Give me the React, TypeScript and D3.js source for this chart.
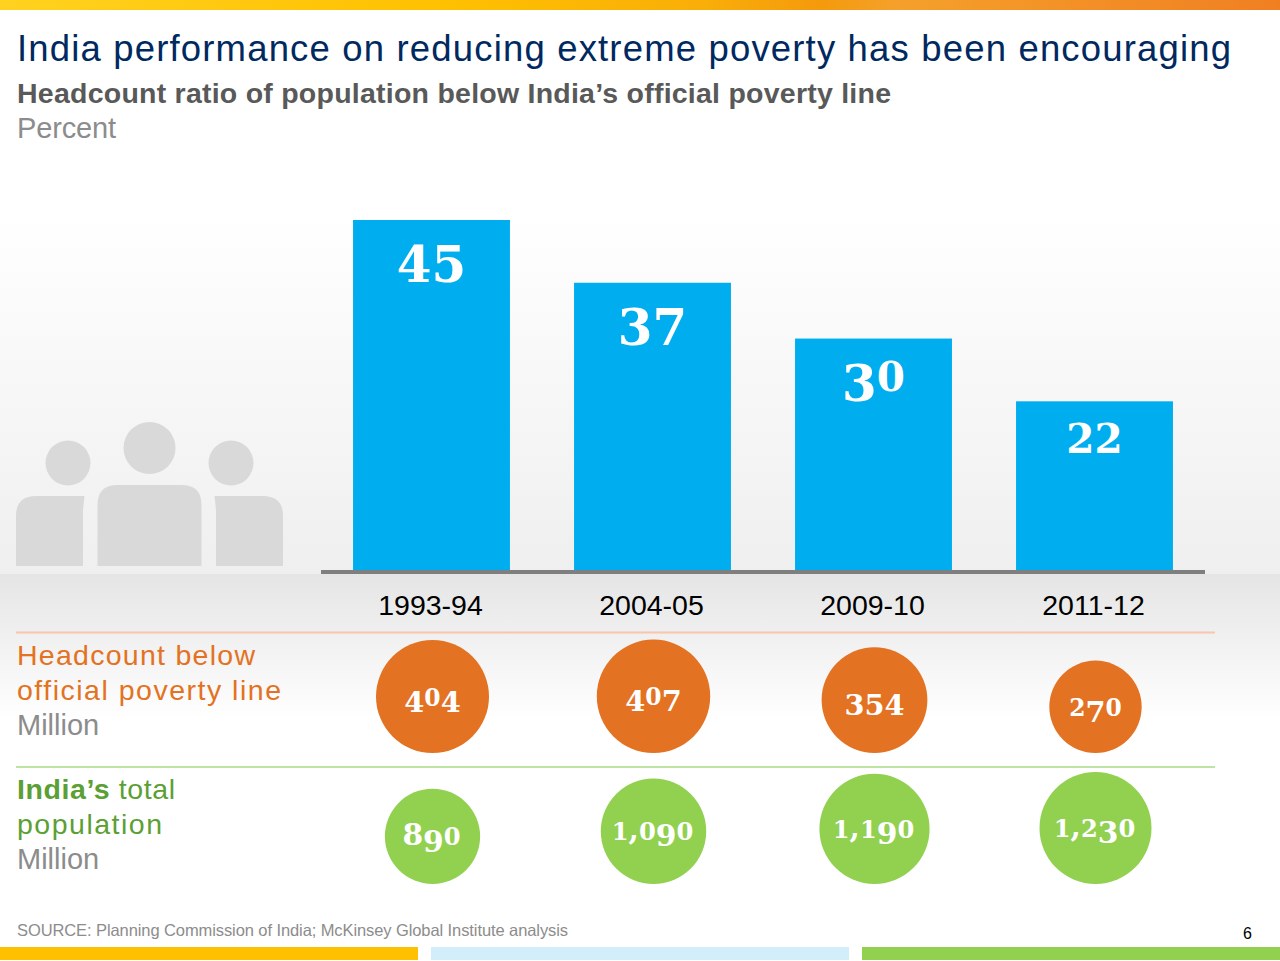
import React from "react";
import * as d3 from "d3";

const years = ["1993-94", "2004-05", "2009-10", "2011-12"];
const ratio = [45.3, 37.2, 30.0, 21.9];
const headcount = [404, 407, 354, 270];
const population = [890, 1090, 1190, 1230];
const popLabels = ["890", "1,090", "1,190", "1,230"];
const title = "India performance on reducing extreme poverty has been encouraging";
const subtitle = "Headcount ratio of population below India’s official poverty line";
const source = "SOURCE: Planning Commission of India; McKinsey Global Institute analysis";

const sans = "'Liberation Sans', Arial, sans-serif";
const serif = "'DejaVu Serif', serif";

const x = d3.scaleBand<string>().domain(years).range([321, 1205]).paddingInner(0.29).paddingOuter(0.145);
const y = d3.scaleLinear().domain([0, 45.3]).range([571, 220]);
const rOrange = d3.scaleSqrt().domain([0, 404]).range([0, 56.5]);
const rGreen = d3.scaleSqrt().domain([0, 1230]).range([0, 56]);

// Old-style figures: built from lining glyphs of the installed serif.
function Old({ s, size }: { s: string; size: number }) {
  let prev = 0;
  return (
    <>
      {s.split("").map((c, i) => {
        const small = "012".includes(c);
        const desc = "34579".includes(c);
        const fs = small ? size * 0.78 : size * 0.96;
        const off = desc ? size * 0.2 : 0;
        const dy = off - prev;
        prev = off;
        return (
          <tspan key={i} fontSize={fs} dy={dy}>
            {c}
          </tspan>
        );
      })}
    </>
  );
}

const T = (p: any) => <text fontFamily={sans} {...p} />;

export default function App() {
  const cx = (d: string) => x(d)! + x.bandwidth() / 2;
  return (
    <svg width={1280} height={961} style={{ position: "absolute", left: 0, top: 0, background: "#fff" }}>
      <defs>
        <linearGradient id="top" x1="0" x2="1" y1="0" y2="0">
          <stop offset="0" stopColor="#ffd21f" />
          <stop offset="0.35" stopColor="#ffc000" />
          <stop offset="0.55" stopColor="#f9ae08" />
          <stop offset="0.64" stopColor="#f59a0c" />
          <stop offset="0.7" stopColor="#f5a02a" />
          <stop offset="1" stopColor="#f07f22" />
        </linearGradient>
        <linearGradient id="upper" x1="0" x2="0" y1="0" y2="1">
          <stop offset="0" stopColor="#fff" />
          <stop offset="1" stopColor="#efefef" />
        </linearGradient>
        <linearGradient id="lower" x1="0" x2="0" y1="0" y2="1">
          <stop offset="0" stopColor="#e5e5e5" />
          <stop offset="1" stopColor="#fff" />
        </linearGradient>
      </defs>

      <rect x={0} y={0} width={1280} height={10} fill="url(#top)" />
      <rect x={0} y={205} width={1280} height={369} fill="url(#upper)" />
      <rect x={0} y={574} width={1280} height={146} fill="url(#lower)" />

      <T x={17} y={61} fontSize={36.5} fill="#002960" textLength={1214} lengthAdjust="spacing">{title}</T>
      <T x={17} y={103} fontSize={28.5} fontWeight="bold" fill="#595959" textLength={874} lengthAdjust="spacing">{subtitle}</T>
      <T x={17} y={138} fontSize={29} fill="#8c8c8c" textLength={99} lengthAdjust="spacing">Percent</T>

      <g fill="#d9d9d9">
        <circle cx={68} cy={463} r={22.5} />
        <circle cx={149.5} cy={448} r={26} />
        <circle cx={231} cy={463} r={22.5} />
        <path d="M16 566V516Q16 496 36 496H84.500L83 510V566Z" />
        <path d="M97.500 566V505Q97.500 485 117.500 485H181.500Q201.500 485 201.500 505V566Z" />
        <path d="M216 566V510L214.500 496H263Q283 496 283 516V566Z" />
      </g>

      {years.map((d, i) => (
        <rect key={d} x={x(d)} y={y(ratio[i])} width={x.bandwidth()} height={y(0) - y(ratio[i])} fill="#00aeef" />
      ))}
      <line x1={321} x2={1205} y1={572} y2={572} stroke="#7f7f7f" strokeWidth={4} />
      {years.map((d, i) => (
        <text key={d} x={cx(d)} y={y(ratio[i]) + 52} textAnchor="middle" fontFamily={serif} fontWeight="bold" fill="#fff">
          <Old s={String(Math.round(ratio[i]))} size={52} />
        </text>
      ))}
      {years.map((d) => (
        <T key={d} x={cx(d) - 1} y={615} fontSize={28.5} fill="#000" textAnchor="middle">{d}</T>
      ))}

      <line x1={16} x2={1215} y1={632.500} y2={632.500} stroke="#f8c6ac" strokeWidth={2} />
      <line x1={16} x2={1215} y1={767} y2={767} stroke="#bfe3a2" strokeWidth={2} />

      <T x={17} y={665} fontSize={28.5} fill="#e37222" textLength={238} lengthAdjust="spacing">Headcount below</T>
      <T x={17} y={700} fontSize={28.5} fill="#e37222" textLength={264} lengthAdjust="spacing">official poverty line</T>
      <T x={17} y={735} fontSize={29} fill="#8c8c8c">Million</T>
      <T x={17} y={799} fontSize={28.5} fill="#5b9f35" textLength={158} lengthAdjust="spacing">
        <tspan fontWeight="bold">India’s</tspan> total
      </T>
      <T x={17} y={834} fontSize={28.5} fill="#5b9f35" textLength={145} lengthAdjust="spacing">population</T>
      <T x={17} y={869} fontSize={29} fill="#8c8c8c">Million</T>

      {years.map((d, i) => {
        const r = rOrange(headcount[i]);
        const cy = 753 - r;
        return (
          <g key={d}>
            <circle cx={cx(d) + 1} cy={cy} r={r} fill="#e37222" />
            <text x={cx(d) + 1} y={cy + 9} textAnchor="middle" fontFamily={serif} fontWeight="bold" fill="#fff">
              <Old s={String(headcount[i])} size={30} />
            </text>
          </g>
        );
      })}
      {years.map((d, i) => {
        const r = rGreen(population[i]);
        const cy = 884 - r;
        return (
          <g key={d}>
            <circle cx={cx(d) + 1} cy={cy} r={r} fill="#92d050" />
            <text x={cx(d)} y={cy + 9} textAnchor="middle" fontFamily={serif} fontWeight="bold" fill="#fff">
              <Old s={popLabels[i]} size={31} />
            </text>
          </g>
        );
      })}

      <T x={17} y={936} fontSize={16.5} fill="#8c8c8c" textLength={551} lengthAdjust="spacing">{source}</T>
      <T x={1243} y={939} fontSize={16} fill="#000">6</T>

      <rect x={0} y={947} width={418} height={13} fill="#ffc000" />
      <rect x={431} y={947} width={418} height={13} fill="#d2eefb" />
      <rect x={862} y={947} width={418} height={13} fill="#92d050" />
    </svg>
  );
}
